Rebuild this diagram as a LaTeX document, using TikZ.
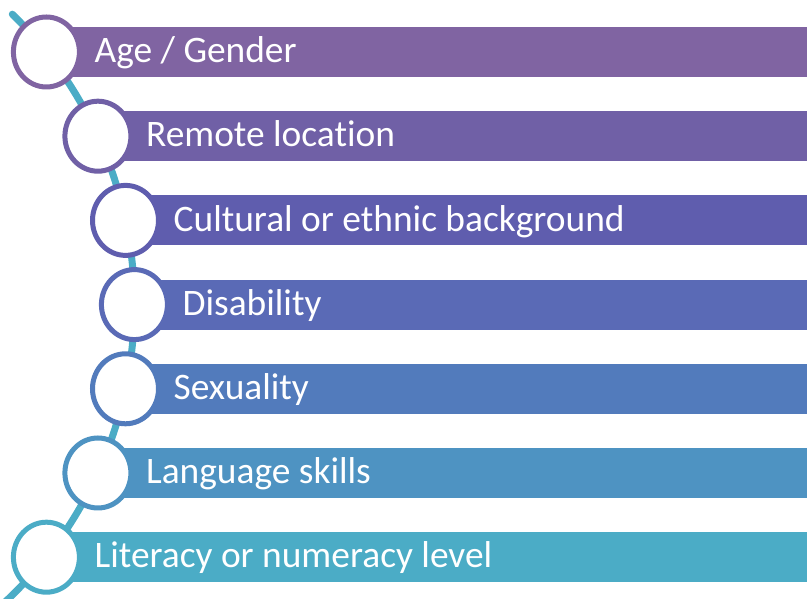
\documentclass[tikz,border=0pt]{standalone}
\usepackage{fontspec}
\setmainfont{Carlito}[Ligatures=NoCommon]
\usetikzlibrary{shapes.geometric,calc}
\definecolor{cA}{HTML}{8064A2}
\definecolor{cB}{HTML}{7060A6}
\definecolor{cC}{HTML}{5F5DAE}
\definecolor{cD}{HTML}{5A6AB6}
\definecolor{cE}{HTML}{527BBC}
\definecolor{cF}{HTML}{4E93C2}
\definecolor{cG}{HTML}{4BACC6}
\begin{document}
\begin{tikzpicture}[x=1pt,y=1pt,
  bar/.style={fill=#1, draw=none, rectangle, inner sep=0pt, minimum height=50pt, anchor=west},
  ring/.style={draw=#1, fill=white, line width=5pt, ellipse, inner sep=0pt,
               minimum width=66pt, minimum height=70pt},
  itemtext/.style={text=white, anchor=base west, inner sep=0pt,
                   font=\fontsize{37.4}{44}\selectfont},
  spine/.style={draw=cG, line width=7pt, line cap=round}]
\useasboundingbox (0,0) rectangle (807,599);

% curved spine behind the circles
\coordinate (arcc) at (-272.1,294.4);
\coordinate (top) at ($(arcc)+(45.6:406.5)$);
\draw[spine] (top) arc[start angle=45.6, end angle=-47, radius=406.5];

% bars
\node[bar=cA, minimum width=780pt] (b1) at (46.4,547)   {};
\node[bar=cB, minimum width=730pt] (b2) at (97.9,462.8) {};
\node[bar=cC, minimum width=700pt] (b3) at (125.5,378.6) {};
\node[bar=cD, minimum width=690pt] (b4) at (134.4,294.4) {};
\node[bar=cE, minimum width=700pt] (b5) at (125.5,210.2) {};
\node[bar=cF, minimum width=730pt] (b6) at (97.9,126)   {};
\node[bar=cG, minimum width=780pt] (b7) at (46.4,41.8)  {};

% circles
\node[ring=cA] (d1) at (46.4,547)    {};
\node[ring=cB] (d2) at (97.9,462.8)  {};
\node[ring=cC] (d3) at (125.5,378.6) {};
\node[ring=cD] (d4) at (134.4,294.4) {};
\node[ring=cE] (d5) at (125.5,210.2) {};
\node[ring=cF] (d6) at (97.9,126)    {};
\node[ring=cG] (d7) at (46.4,41.8)   {};

% labels
\node[itemtext] (t1) at (94.4,536.3)  {Age / Gender};
\node[itemtext] (t2) at (145.9,452.1) {Remote location};
\node[itemtext] (t3) at (173.5,367.9) {Cultural or ethnic background};
\node[itemtext] (t4) at (182.4,283.7) {Disability};
\node[itemtext] (t5) at (173.5,199.5) {Sexuality};
\node[itemtext] (t6) at (145.9,115.3) {Language skills};
\node[itemtext] (t7) at (94.4,31.1)   {Literacy or numeracy level};
\end{tikzpicture}
\end{document}
